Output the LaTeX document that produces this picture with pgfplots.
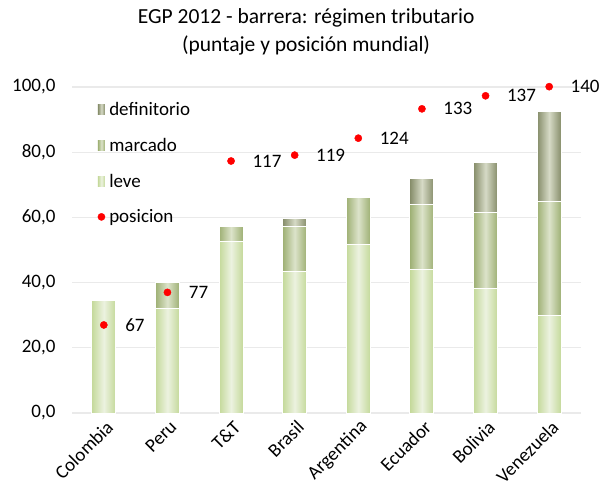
\documentclass[border=0pt]{standalone}
\usepackage{pgfplots}
\pgfplotsset{compat=1.18}
\usepackage{fontspec}
\setmainfont{Carlito}
\definecolor{leveE}{RGB}{196,217,154}
\definecolor{leveC}{RGB}{236,242,224}
\definecolor{marE}{RGB}{158,176,116}
\definecolor{marC}{RGB}{220,227,202}
\definecolor{defE}{RGB}{134,141,106}
\definecolor{defC}{RGB}{214,218,198}
\definecolor{gridc}{RGB}{234,234,234}
\pgfplotsset{
  legsq/.style={legend image code/.code={\path[##1] (0pt,-5pt) rectangle (7pt,5pt);}},
  legdot/.style={legend image code/.code={\fill[red] (3.5pt,0pt) circle (3.6pt);}},
  barS/.style={forget plot, bar shift=0pt, draw=white, line width=0.9pt},
  leveS/.style={barS, left color=leveE, right color=leveE, middle color=leveC},
  marS/.style={barS, left color=marE, right color=marE, middle color=marC},
  defS/.style={barS, left color=defE, right color=defE, middle color=defC},
}
\pgfplotstableread{
x y pos
0 27.0 67
1 37.0 77
2 77.3 117
3 79.1 119
4 84.3 124
5 93.3 133
6 97.3 137
7 100.1 140
}\posic
\begin{document}
\begin{tikzpicture}
\useasboundingbox (-72pt,-76pt) rectangle (530pt,413pt);
\pgfplotsset{
  common/.style={
    scale only axis, width=509pt, height=326pt,
    at={(0,0)}, anchor=south west,
    xmin=-0.5, xmax=7.5, ymin=0, ymax=100,
    clip=false,
  }
}
\begin{axis}[common,
  ybar, bar width=24pt, bar shift=0pt,
  axis line style={draw=none},
  major tick length=0pt,
  ymajorgrids, grid style={gridc, line width=1.2pt},
  ytick={0,20,40,60,80,100},
  /pgf/number format/fixed, /pgf/number format/fixed zerofill, /pgf/number format/precision=1,
  /pgf/number format/use comma, /pgf/number format/assume math mode=true,
  yticklabel style={font=\fontsize{19}{21}\selectfont, xshift=-13pt},
  xtick={0,...,7},
  xticklabels={Colombia,Peru,T\&T,Brasil,Argentina,Ecuador,Bolivia,Venezuela},
  xticklabel style={font=\fontsize{19}{21}\selectfont, rotate=45, anchor=east, xshift=0pt, yshift=-12pt},
  title={EGP 2012 - barrera: régimen tributario\\(puntaje y posición mundial)},
  title style={font=\fontsize{21.5}{28}\selectfont, align=center, at={(rel axis cs:0.46,1)}, anchor=south, yshift=22pt},
  legend style={at={(rel axis cs:0.05,0.953)}, anchor=north west, draw=none, fill=none,
    font=\fontsize{19}{21}\selectfont, row sep=21pt, inner sep=0pt, cells={anchor=west},
    nodes={inner xsep=4pt, inner ysep=0pt}},
  legend cell align=left,
]
\addlegendimage{legsq, draw=none, left color=defE, right color=defE, middle color=defC}
\addlegendentry{definitorio}
\addlegendimage{legsq, draw=none, left color=marE, right color=marE, middle color=marC}
\addlegendentry{marcado}
\addlegendimage{legsq, draw=none, left color=leveE, right color=leveE, middle color=leveC}
\addlegendentry{leve}
\addlegendimage{legdot}
\addlegendentry{posicion}
% Colombia
\addplot[leveS] coordinates {(0,34.4)};
% Peru
\addplot[marS] coordinates {(1,39.9)};
\addplot[leveS] coordinates {(1,32.0)};
% T&T
\addplot[marS] coordinates {(2,57.3)};
\addplot[leveS] coordinates {(2,52.5)};
% Brasil
\addplot[defS] coordinates {(3,59.8)};
\addplot[marS] coordinates {(3,57.2)};
\addplot[leveS] coordinates {(3,43.4)};
% Argentina
\addplot[marS] coordinates {(4,66.0)};
\addplot[leveS] coordinates {(4,51.7)};
% Ecuador
\addplot[defS] coordinates {(5,71.9)};
\addplot[marS] coordinates {(5,64.0)};
\addplot[leveS] coordinates {(5,44.0)};
% Bolivia
\addplot[defS] coordinates {(6,76.9)};
\addplot[marS] coordinates {(6,61.6)};
\addplot[leveS] coordinates {(6,38.3)};
% Venezuela
\addplot[defS] coordinates {(7,92.6)};
\addplot[marS] coordinates {(7,65.0)};
\addplot[leveS] coordinates {(7,29.8)};
\end{axis}
\begin{axis}[common, hide axis]
\addplot[only marks, mark=*, mark size=3.6pt, red,
  point meta=explicit symbolic,
  nodes near coords, nodes near coords align={anchor=west},
  every node near coord/.append style={black, font=\fontsize{19}{21}\selectfont, xshift=18pt, yshift=0pt}]
  table[x=x,y=y,meta=pos]{\posic};
\end{axis}
\end{tikzpicture}
\end{document}
